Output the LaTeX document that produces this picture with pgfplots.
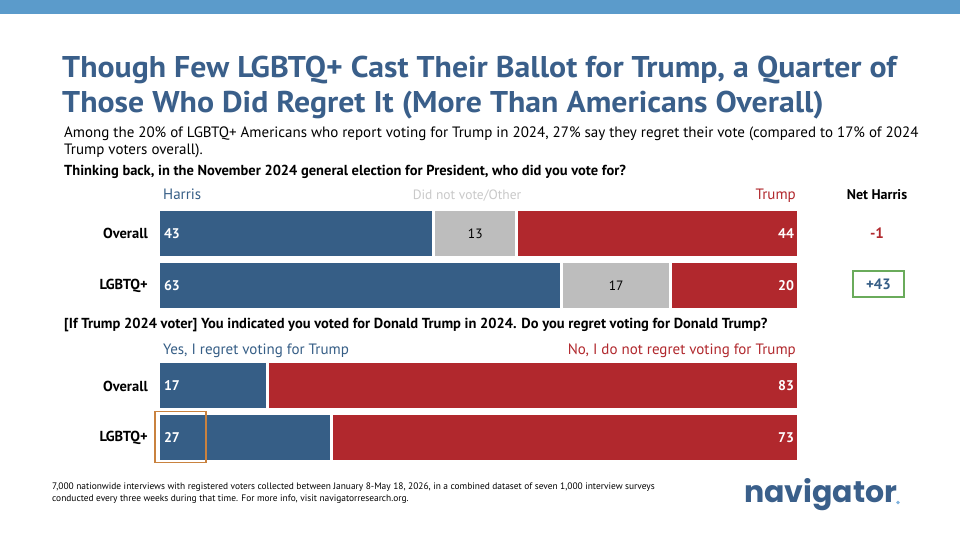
\documentclass[border=0pt]{standalone}
\usepackage{fontspec}
\usepackage{pgfplots}
\usepackage{pgfplotstable}
\pgfplotsset{compat=1.18}
\setmainfont{PT Sans}
\newfontfamily\condfont[FakeStretch=1.06]{PT Sans}
\newfontfamily\textcond{PT Sans}

\definecolor{navblue}{HTML}{3A5F8A}
\definecolor{harrisblue}{HTML}{365E86}
\definecolor{trumpred}{HTML}{B1282D}
\definecolor{othergray}{HTML}{BDBDBD}
\definecolor{bandblue}{HTML}{5B9BCB}
\definecolor{legendgray}{HTML}{C9C9C9}
\definecolor{boxgreen}{HTML}{6AAB5B}
\definecolor{boxorange}{HTML}{C9823F}
\definecolor{dotblue}{HTML}{7FB2DD}

% 2024 presidential vote, share of each group (%)
\pgfplotstableread{
pos harris other trump
1.5 43 13 44
0.5 63 17 20
}\votetable

% Regret among Trump 2024 voters (%)
\pgfplotstableread{
pos yes no
1.5 17 83
0.5 27 73
}\regrettable

\newcommand\valfont{\textcond\bfseries\fontsize{14}{16}\selectfont}
\newcommand\legfont{\textcond\fontsize{15}{17}\selectfont}
\newcommand\catfont{\textcond\bfseries\fontsize{14.5}{16}\selectfont}
\newcommand\qfont{\textcond\bfseries\fontsize{14.5}{17}\selectfont}

\pgfplotsset{
  rowframe/.style={
    scale only axis, width=640pt, height=104pt,
    xmin=0, xmax=100, ymin=0, ymax=2,
    axis lines=none, ticks=none, clip=false,
  },
  segbars/.style={rowframe, xbar stacked, bar width=48pt},
  seg/.style={fill=#1, draw=white, line width=3pt},
  vlabel/.style={draw=none, mark=none, point meta=explicit symbolic,
    nodes near coords, nodes near coords style={#1}},
}

\begin{document}
\begin{tikzpicture}
\useasboundingbox (0pt,0pt) rectangle (960pt,540pt);
\fill[white] (0pt,0pt) rectangle (960pt,540pt);
\fill[bandblue] (0pt,526pt) rectangle (960pt,540pt);

\begin{scope}[x=1pt,y=1pt]
% title
\node[anchor=base west, inner sep=0, text=navblue,
      font=\condfont\bfseries\fontsize{30}{35}\selectfont] at (62,462) {Though Few LGBTQ+ Cast Their Ballot for Trump, a Quarter of};
\node[anchor=base west, inner sep=0, text=navblue,
      font=\condfont\bfseries\fontsize{30}{35}\selectfont] at (62,427) {Those Who Did Regret It (More Than Americans Overall)};

% subtitle
\node[anchor=base west, inner sep=0, font=\textcond\fontsize{15}{17}\selectfont] at (64,402) {Among the 20\% of LGBTQ+ Americans who report voting for Trump in 2024, 27\% say they regret their vote (compared to 17\% of 2024};
\node[anchor=base west, inner sep=0, font=\textcond\fontsize{15}{17}\selectfont] at (64,385) {Trump voters overall).};

% question 1
\node[anchor=base west, inner sep=0, font=\qfont] at (64,364) {Thinking back, in the November 2024 general election for President, who did you vote for?};

\node[anchor=base west, inner sep=0, text=harrisblue, font=\legfont] at (163,340) {Harris};
\node[anchor=base, inner sep=0, text=legendgray, font=\textcond\fontsize{13.5}{16}\selectfont] at (467,340) {Did not vote/Other};
\node[anchor=base east, inner sep=0, text=trumpred, font=\legfont] at (796,340) {Trump};
\node[anchor=base, inner sep=0, font=\textcond\bfseries\fontsize{14}{17}\selectfont] at (877,340) {Net Harris};

\node[anchor=east, inner sep=0, font=\catfont] at (148,306.5) {Overall};
\node[anchor=east, inner sep=0, font=\catfont] at (148,254.5) {LGBTQ+};

% net Harris
\node[text=trumpred, font=\textcond\bfseries\fontsize{15}{17}\selectfont] at (877,306.5) {-1};
\draw[boxgreen, line width=1.6pt] (853,243) rectangle (904,269);
\node[text=harrisblue, font=\textcond\bfseries\fontsize{15}{17}\selectfont] at (878.5,256) {+43};

% question 2
\node[anchor=base west, inner sep=0, font=\qfont] at (64,211) {[If Trump 2024 voter] You indicated you voted for Donald Trump in 2024. Do you regret voting for Donald Trump?};

\node[anchor=base west, inner sep=0, text=harrisblue, font=\legfont] at (163,185) {Yes, I regret voting for Trump};
\node[anchor=base east, inner sep=0, text=trumpred, font=\legfont] at (796,185) {No, I do not regret voting for Trump};

\node[anchor=east, inner sep=0, font=\catfont] at (148,154) {Overall};
\node[anchor=east, inner sep=0, font=\catfont] at (148,102) {LGBTQ+};

% footer
\node[anchor=base west, inner sep=0, font=\textcond\fontsize{9.4}{11}\selectfont] at (52,50) {7,000 nationwide interviews with registered voters collected between January 8-May 18, 2026, in a combined dataset of seven 1,000 interview surveys};
\node[anchor=base west, inner sep=0, font=\textcond\fontsize{9.4}{11}\selectfont] at (52,38.5) {conducted every three weeks during that time. For more info, visit navigatorresearch.org.};

% logo
\node[anchor=base west, inner sep=0, text=navblue, font=\fontspec{Poppins}\bfseries\fontsize{30}{32}\selectfont] at (744,37) {navigator};
\fill[dotblue] (898,37.5) circle (1.8);
\end{scope}

% vote choice bars
\begin{axis}[segbars, at={(158.5pt,228.5pt)}, anchor=south west]
  \addplot[seg=harrisblue] table[x=harris, y=pos] {\votetable};
  \addplot[seg=othergray]  table[x=other,  y=pos] {\votetable};
  \addplot[seg=trumpred]   table[x=trump,  y=pos] {\votetable};
\end{axis}
% vote choice value labels
\begin{axis}[rowframe, at={(158.5pt,228.5pt)}, anchor=south west]
  \addplot[vlabel={anchor=west, text=white, font=\valfont, xshift=2pt}]
    table[x expr=0, y=pos, meta=harris] {\votetable};
  \addplot[vlabel={anchor=center, text=black, font=\textcond\fontsize{13.5}{15}\selectfont}]
    table[x expr=\thisrow{harris}+\thisrow{other}/2, y=pos, meta=other] {\votetable};
  \addplot[vlabel={anchor=east, text=white, font=\valfont, xshift=-1pt}]
    table[x expr=100, y=pos, meta=trump] {\votetable};
\end{axis}

% regret bars
\begin{axis}[segbars, at={(158.5pt,76pt)}, anchor=south west]
  \addplot[seg=harrisblue] table[x=yes, y=pos] {\regrettable};
  \addplot[seg=trumpred]   table[x=no,  y=pos] {\regrettable};
\end{axis}
% regret value labels
\begin{axis}[rowframe, at={(158.5pt,76pt)}, anchor=south west]
  \addplot[vlabel={anchor=west, text=white, font=\valfont, xshift=2pt}]
    table[x expr=0, y=pos, meta=yes] {\regrettable};
  \addplot[vlabel={anchor=east, text=white, font=\valfont, xshift=-1pt}]
    table[x expr=100, y=pos, meta=no] {\regrettable};
\end{axis}

\draw[boxorange, line width=1.6pt] (155pt,77.5pt) rectangle (206pt,128.5pt);
\end{tikzpicture}
\end{document}
